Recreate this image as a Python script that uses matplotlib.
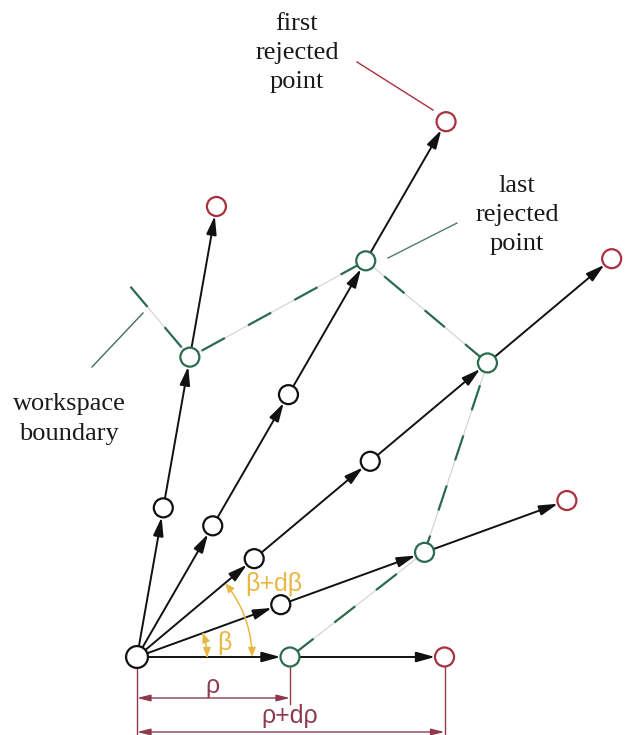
import numpy as np
import matplotlib
matplotlib.use("Agg")
import matplotlib.pyplot as plt
from matplotlib.patches import Circle, FancyArrowPatch
from matplotlib.path import Path

plt.rcParams["lines.scale_dashes"] = False

# ray directions (deg) and radial positions of the samples on each ray (units of rho)
ray_angles = [0, 20, 40, 60, 80]
ray_radii = [
    [1.0, 2.01],
    [1.0, 2.0, 2.99],
    [1.0, 1.99, 2.99, 4.05],
    [0.99, 1.98, 2.99, 4.04],
    [0.99, 1.99, 2.99],
]
# index of the last accepted sample (on the workspace boundary) per ray
boundary_idx = [0, 1, 2, 2, 1]
# boundary continues past the last ray: (rho, deg)
boundary_tail = (2.42, 91.0)
# angle labels (deg)
beta = 20
beta_dbeta = 40

BLACK = "#111111"
GREEN = "#2c6b50"
RED = "#a9303e"
DIMRED = "#8e3a4c"
YELLOW = "#e8b845"
GREY = "#d6d6d6"

UNIT = 153.0          # pixels per unit rho
OX, OY = 137.0, 657.0  # pixel position of the origin
R = 9.5 / UNIT         # circle radius


def px(x, y):
    # pixel layout position -> data coordinates
    return ((x - OX) / UNIT, (OY - y) / UNIT)


def polar(r, deg):
    a = np.radians(deg)
    return np.array([r * np.cos(a), r * np.sin(a)])


fig = plt.figure(figsize=(6.28, 7.35), dpi=100)
ax = fig.add_axes([0, 0, 1, 1])
ax.set_xlim(-OX / UNIT, (628 - OX) / UNIT)
ax.set_ylim(-(735 - OY) / UNIT, OY / UNIT)
ax.axis("off")

# rays with arrows and sample circles
for ang, radii, bi in zip(ray_angles, ray_radii, boundary_idx):
    d = polar(1.0, ang)
    pts = [0.0] + radii
    for a, b in zip(pts[:-1], pts[1:]):
        ax.annotate("", xy=(b - R) * d, xytext=(a + R) * d,
                    arrowprops=dict(arrowstyle="-|>,head_length=0.8,head_width=0.22",
                                    lw=1.4, color=BLACK, mutation_scale=14,
                                    shrinkA=0, shrinkB=0), zorder=3)
    for i, r in enumerate(radii):
        if i == bi:
            c = GREEN
        elif i > bi:
            c = RED
        else:
            c = BLACK
        ax.add_patch(Circle(r * d, R, facecolor="white", edgecolor=c, lw=1.6, zorder=5))

ax.add_patch(Circle((0, 0), R * 1.15, facecolor="white", edgecolor=BLACK, lw=1.6, zorder=5))

# workspace boundary through the last accepted samples
bpts = [polar(*boundary_tail)]
for ang, radii, bi in reversed(list(zip(ray_angles, ray_radii, boundary_idx))):
    bpts.append(polar(radii[bi], ang))
bpts = np.array(bpts)
ax.plot(bpts[:, 0], bpts[:, 1], color=GREY, lw=0.9, zorder=1)
ax.plot(bpts[:, 0], bpts[:, 1], color=GREEN, lw=1.6, dashes=(19, 19), zorder=2)

# angle arcs
for ang, rad, lab, lpos in [(beta, 70 / UNIT, "β", px(224, 643)),
                            (beta_dbeta, 115 / UNIT, "β+dβ", px(274, 584))]:
    t = np.radians(np.linspace(0, ang, 40))
    verts = np.column_stack([rad * np.cos(t), rad * np.sin(t)])
    ax.add_patch(FancyArrowPatch(path=Path(verts),
                                 arrowstyle="<|-|>,head_length=0.6,head_width=0.25",
                                 mutation_scale=9, color=YELLOW, lw=1.1, zorder=4))
    ax.text(*lpos, lab, color=YELLOW, fontsize=18, family="Liberation Sans",
            ha="center", va="center", zorder=6)

# dimension lines for rho and rho+drho
rho = ray_radii[0][0]
rho2 = ray_radii[0][1]
y1 = px(0, 698)[1]
y2 = px(0, 732)[1]
ybot = px(0, 735)[1]
ax.plot([0, 0], [-R * 1.15, ybot], color=DIMRED, lw=1.0, zorder=2)
ax.plot([rho, rho], [-R, px(0, 704)[1]], color=DIMRED, lw=1.0, zorder=2)
ax.plot([rho2, rho2], [-R, ybot], color=DIMRED, lw=1.0, zorder=2)
for x_end, yy, lab, lpos in [(rho, y1, "ρ", px(212, 686)),
                             (rho2, y2, "ρ+dρ", px(290, 716))]:
    ax.annotate("", xy=(x_end, yy), xytext=(0, yy),
                arrowprops=dict(arrowstyle="<|-|>,head_length=0.8,head_width=0.2",
                                lw=1.0, color=DIMRED, mutation_scale=10,
                                shrinkA=0, shrinkB=0), zorder=3)
    ax.text(*lpos, lab, color=DIMRED, fontsize=18, family="Liberation Sans",
            ha="center", va="center", zorder=6)

# callout texts and leader lines
serif = dict(fontsize=19, family="Liberation Serif", color="#1a1a1a",
             ha="center", va="center", linespacing=1.42)
ax.text(*px(297, 53), "first\nrejected\npoint", **serif)
ax.text(*px(517, 215), "last\nrejected\npoint", **serif)
ax.text(*px(69, 419), "workspace\nboundary", **dict(serif, linespacing=1.5))

for (x0, y0), (x1, y1_), col in [((357, 62), (433, 110), RED),
                                 ((388, 258), (457, 223), "#4f7d69"),
                                 ((92, 367), (143, 313), "#3f7059")]:
    a = px(x0, y0)
    b = px(x1, y1_)
    ax.plot([a[0], b[0]], [a[1], b[1]], color=col, lw=1.0, zorder=2)

fig.savefig("out.png", dpi=100, facecolor="white")
